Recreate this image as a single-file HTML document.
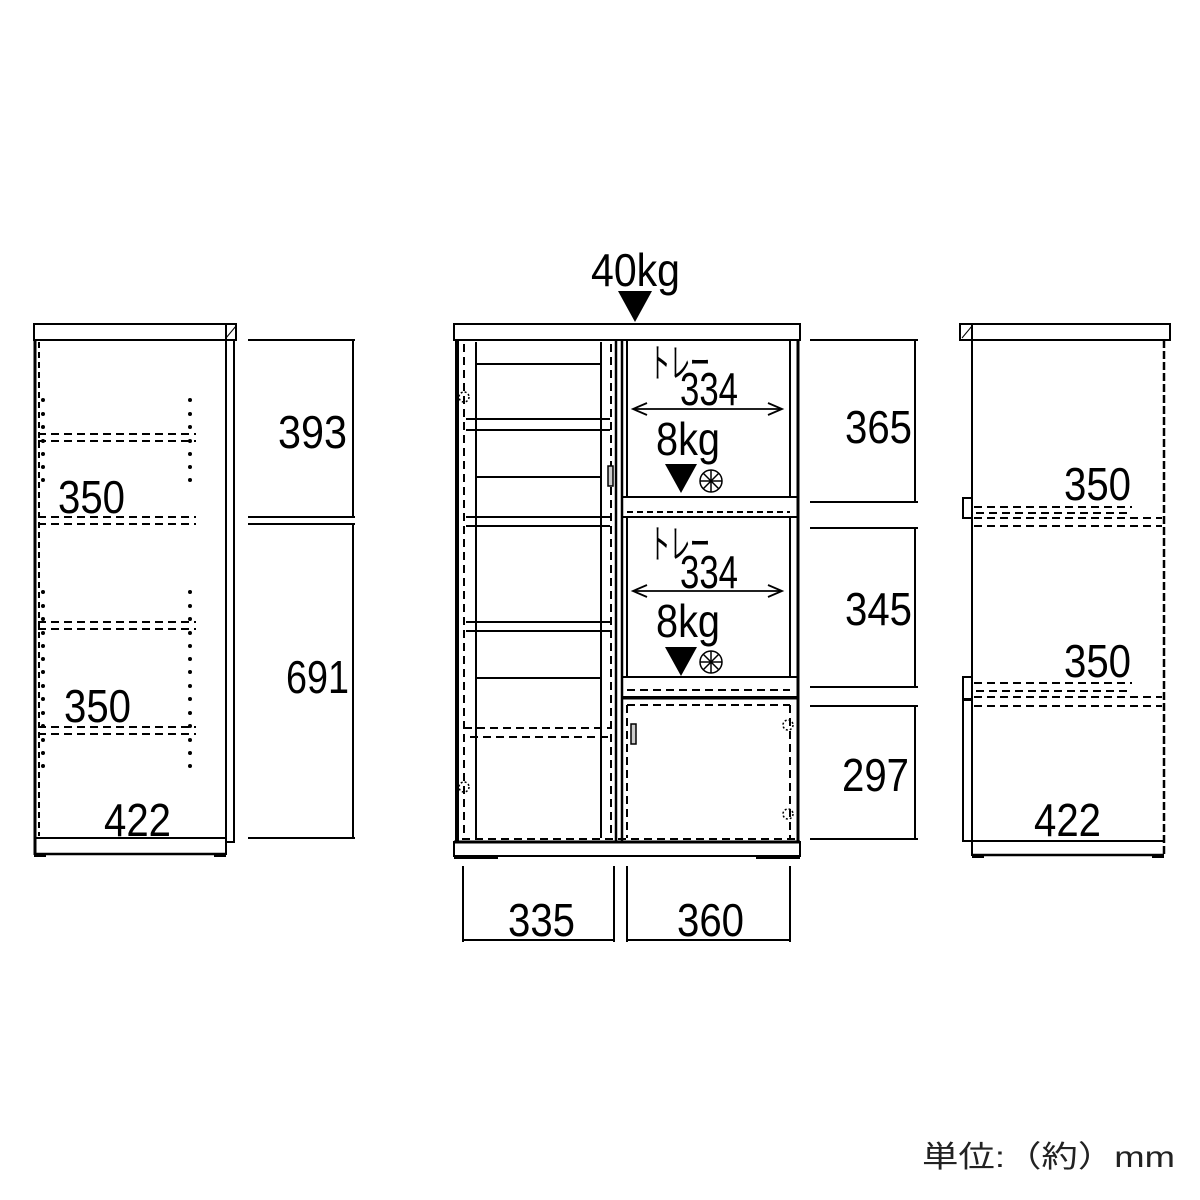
<!DOCTYPE html>
<html><head><meta charset="utf-8"><style>html,body{margin:0;padding:0;background:#fff}svg{display:block}</style></head>
<body>
<svg width="1200" height="1200" viewBox="0 0 1200 1200" xmlns="http://www.w3.org/2000/svg" font-family="'Liberation Sans Narrow','Liberation Sans','Noto Sans CJK JP',sans-serif" fill="none" stroke="#000" stroke-width="2">
<!-- LEFT VIEW -->
<rect x="34" y="324" width="202" height="16"/>
<line x1="226" y1="324" x2="226" y2="340"/><line x1="226" y1="338" x2="236" y2="326" stroke-width="1"/>
<line x1="35" y1="340" x2="35" y2="855" stroke-width="3"/>
<line x1="226" y1="340" x2="226" y2="855"/>
<rect x="226" y="340" width="8" height="502"/>
<line x1="34" y1="838" x2="226" y2="838"/>
<line x1="34" y1="854" x2="226" y2="854" stroke-width="2.5"/>
<rect x="34" y="853" width="12" height="4" fill="#000" stroke="none"/><rect x="214" y="853" width="12" height="4" fill="#000" stroke="none"/>
<g stroke-dasharray="8,5">
<line x1="38" y1="434" x2="196" y2="434"/><line x1="38" y1="441" x2="196" y2="441"/>
<line x1="38" y1="517" x2="196" y2="517"/><line x1="38" y1="524" x2="196" y2="524"/>
<line x1="38" y1="622" x2="196" y2="622"/><line x1="38" y1="629" x2="196" y2="629"/>
<line x1="38" y1="727" x2="196" y2="727"/><line x1="38" y1="734" x2="196" y2="734"/>
<line x1="39" y1="342" x2="39" y2="836" stroke-dasharray="6,4"/>
</g>
<g fill="#000" stroke="none">
<circle cx="43" cy="400" r="2"/><circle cx="43" cy="414" r="2"/><circle cx="43" cy="427" r="2"/><circle cx="43" cy="441" r="2"/><circle cx="43" cy="454" r="2"/><circle cx="43" cy="467" r="2"/><circle cx="43" cy="480" r="2"/>
<circle cx="190" cy="400" r="2"/><circle cx="190" cy="414" r="2"/><circle cx="190" cy="427" r="2"/><circle cx="190" cy="441" r="2"/><circle cx="190" cy="454" r="2"/><circle cx="190" cy="467" r="2"/><circle cx="190" cy="480" r="2"/>
<circle cx="43" cy="592" r="2"/><circle cx="43" cy="606" r="2"/><circle cx="43" cy="619" r="2"/><circle cx="43" cy="633" r="2"/><circle cx="43" cy="646" r="2"/><circle cx="43" cy="659" r="2"/><circle cx="43" cy="672" r="2"/><circle cx="43" cy="686" r="2"/><circle cx="43" cy="699" r="2"/><circle cx="43" cy="713" r="2"/><circle cx="43" cy="726" r="2"/><circle cx="43" cy="740" r="2"/><circle cx="43" cy="753" r="2"/><circle cx="43" cy="766" r="2"/>
<circle cx="190" cy="592" r="2"/><circle cx="190" cy="606" r="2"/><circle cx="190" cy="619" r="2"/><circle cx="190" cy="633" r="2"/><circle cx="190" cy="646" r="2"/><circle cx="190" cy="659" r="2"/><circle cx="190" cy="672" r="2"/><circle cx="190" cy="686" r="2"/><circle cx="190" cy="699" r="2"/><circle cx="190" cy="713" r="2"/><circle cx="190" cy="726" r="2"/><circle cx="190" cy="740" r="2"/><circle cx="190" cy="753" r="2"/><circle cx="190" cy="766" r="2"/>
</g>
<!-- left dims -->
<line x1="248" y1="340" x2="355" y2="340"/><line x1="248" y1="517" x2="355" y2="517"/><line x1="248" y1="524" x2="355" y2="524"/><line x1="248" y1="838" x2="355" y2="838"/>
<line x1="353" y1="340" x2="353" y2="517"/><line x1="353" y1="524" x2="353" y2="838"/>

<!-- CENTER VIEW -->
<rect x="454" y="324" width="346" height="16"/>
<line x1="457" y1="340" x2="457" y2="842" stroke-width="4"/>
<line x1="798" y1="340" x2="798" y2="842" stroke-width="3"/>
<line x1="476" y1="342" x2="476" y2="838"/>
<line x1="601" y1="342" x2="601" y2="838"/>
<line x1="616" y1="340" x2="616" y2="842" stroke-width="2.5"/>
<line x1="622" y1="340" x2="622" y2="842" stroke-width="2.5"/>
<line x1="790" y1="340" x2="790" y2="497"/><line x1="790" y1="517" x2="790" y2="677"/>
<line x1="627" y1="340" x2="627" y2="497"/><line x1="627" y1="517" x2="627" y2="677"/>
<line x1="476" y1="364" x2="601" y2="364"/>
<line x1="466" y1="419" x2="610" y2="419"/><line x1="466" y1="430" x2="610" y2="430"/>
<line x1="466" y1="517" x2="610" y2="517"/><line x1="466" y1="526" x2="610" y2="526"/>
<line x1="476" y1="477" x2="601" y2="477"/>
<line x1="466" y1="622" x2="610" y2="622"/><line x1="466" y1="631" x2="610" y2="631"/>
<line x1="476" y1="678" x2="601" y2="678"/>
<rect x="622" y="497" width="176" height="20"/>
<rect x="622" y="677" width="176" height="20"/>
<line x1="622" y1="698" x2="798" y2="698" stroke-width="3"/>
<line x1="454" y1="842" x2="800" y2="842" stroke-width="3"/>
<rect x="454" y="842" width="346" height="14"/>
<rect x="454" y="855" width="44" height="4" fill="#000" stroke="none"/><rect x="756" y="855" width="44" height="4" fill="#000" stroke="none"/>
<g stroke-dasharray="8,5">
<line x1="464" y1="344" x2="464" y2="838"/>
<line x1="611" y1="344" x2="611" y2="838"/>
<line x1="464" y1="728" x2="612" y2="728"/><line x1="470" y1="737" x2="612" y2="737"/>
<line x1="462" y1="839" x2="796" y2="839"/>
<line x1="627" y1="512" x2="790" y2="512" stroke-dasharray="6,4"/>
<line x1="627" y1="690" x2="790" y2="690"/>
<line x1="627" y1="705" x2="790" y2="705"/>
<line x1="627" y1="705" x2="627" y2="838"/><line x1="790" y1="705" x2="790" y2="838"/>
</g>
<rect x="608" y="466" width="5" height="20" fill="#ccc" stroke-width="1.5"/>
<rect x="631" y="724" width="5" height="20" fill="#ccc" stroke-width="1.5"/>
<g stroke-width="1.5" stroke-dasharray="2,2"><circle cx="464" cy="397" r="5"/><circle cx="464" cy="787" r="5"/><circle cx="788" cy="725" r="5"/><circle cx="788" cy="814" r="5"/></g>
<!-- arrows -->
<line x1="633" y1="409" x2="782" y2="409" stroke-width="1.8"/>
<polyline points="647,403 633,409 647,415" stroke-width="1.8"/><polyline points="768,403 782,409 768,415" stroke-width="1.8"/>
<line x1="633" y1="591" x2="782" y2="591" stroke-width="1.8"/>
<polyline points="647,585 633,591 647,597" stroke-width="1.8"/><polyline points="768,585 782,591 768,597" stroke-width="1.8"/>
<g fill="#000" stroke="none">
<polygon points="618,291 652,291 635,322"/>
<polygon points="665,464 697,464 681,493"/>
<polygon points="665,647 697,647 681,676"/>
</g>
<g stroke-width="1.5">
<circle cx="711" cy="481" r="11"/><line x1="700" y1="481" x2="722" y2="481"/><line x1="711" y1="470" x2="711" y2="492"/><line x1="703" y1="473" x2="719" y2="489"/><line x1="719" y1="473" x2="703" y2="489"/>
<circle cx="711" cy="662" r="11"/><line x1="700" y1="662" x2="722" y2="662"/><line x1="711" y1="651" x2="711" y2="673"/><line x1="703" y1="654" x2="719" y2="670"/><line x1="719" y1="654" x2="703" y2="670"/>
</g>
<!-- center right dims -->
<line x1="810" y1="340" x2="918" y2="340"/><line x1="810" y1="502" x2="918" y2="502"/><line x1="810" y1="528" x2="918" y2="528"/><line x1="810" y1="687" x2="918" y2="687"/><line x1="810" y1="706" x2="918" y2="706"/><line x1="810" y1="839" x2="918" y2="839"/>
<line x1="915" y1="340" x2="915" y2="502"/><line x1="915" y1="528" x2="915" y2="687"/><line x1="915" y1="706" x2="915" y2="839"/>
<!-- bottom dims -->
<line x1="463" y1="866" x2="463" y2="942"/><line x1="614" y1="866" x2="614" y2="942"/><line x1="463" y1="940" x2="614" y2="940"/>
<line x1="627" y1="866" x2="627" y2="942"/><line x1="790" y1="866" x2="790" y2="942"/><line x1="627" y1="940" x2="790" y2="940"/>

<!-- RIGHT VIEW -->
<rect x="960" y="324" width="210" height="16"/>
<line x1="972" y1="324" x2="972" y2="340"/><line x1="962" y1="338" x2="972" y2="326" stroke-width="1"/>
<line x1="972" y1="340" x2="972" y2="856"/>
<line x1="1164" y1="340" x2="1164" y2="856" stroke-width="2.5" stroke-dasharray="8,3"/>
<rect x="963" y="498" width="9" height="20"/>
<rect x="963" y="677" width="9" height="22"/>
<rect x="963" y="700" width="9" height="141"/>
<line x1="963" y1="841" x2="1164" y2="841"/>
<line x1="972" y1="855" x2="1164" y2="855" stroke-width="2.5"/>
<rect x="972" y="854" width="12" height="4" fill="#000" stroke="none"/><rect x="1152" y="854" width="12" height="4" fill="#000" stroke="none"/>
<g stroke-dasharray="8,5">
<line x1="974" y1="507" x2="1132" y2="507"/><line x1="976" y1="513" x2="1132" y2="513"/>
<line x1="974" y1="518" x2="1162" y2="518"/><line x1="974" y1="526" x2="1162" y2="526"/>
<line x1="974" y1="683" x2="1132" y2="683"/><line x1="976" y1="691" x2="1132" y2="691"/>
<line x1="974" y1="697" x2="1162" y2="697"/><line x1="974" y1="706" x2="1162" y2="706"/>
</g>

<!-- TEXT -->
<g fill="#000" stroke="none" font-size="46">
<text x="278" y="448" textLength="69" lengthAdjust="spacingAndGlyphs">393</text>
<text x="286" y="693" textLength="63" lengthAdjust="spacingAndGlyphs">691</text>
<text x="58" y="513" textLength="67" lengthAdjust="spacingAndGlyphs">350</text>
<text x="64" y="722" textLength="67" lengthAdjust="spacingAndGlyphs">350</text>
<text x="104" y="836" textLength="67" lengthAdjust="spacingAndGlyphs">422</text>
<text x="591" y="286" textLength="89" lengthAdjust="spacingAndGlyphs">40kg</text>
<text x="845" y="443" textLength="67" lengthAdjust="spacingAndGlyphs">365</text>
<text x="845" y="625" textLength="67" lengthAdjust="spacingAndGlyphs">345</text>
<text x="842" y="791" textLength="67" lengthAdjust="spacingAndGlyphs">297</text>
<text x="508" y="936" textLength="67" lengthAdjust="spacingAndGlyphs">335</text>
<text x="677" y="936" textLength="67" lengthAdjust="spacingAndGlyphs">360</text>
<text x="1064" y="500" textLength="67" lengthAdjust="spacingAndGlyphs">350</text>
<text x="1064" y="677" textLength="67" lengthAdjust="spacingAndGlyphs">350</text>
<text x="1034" y="836" textLength="67" lengthAdjust="spacingAndGlyphs">422</text>
<text x="680" y="405" textLength="58" lengthAdjust="spacingAndGlyphs">334</text>
<text x="680" y="588" textLength="58" lengthAdjust="spacingAndGlyphs">334</text>
<text x="656" y="455" textLength="64" lengthAdjust="spacingAndGlyphs">8kg</text>
<text x="656" y="637" textLength="64" lengthAdjust="spacingAndGlyphs">8kg</text>
<text x="650" y="377" font-size="40" textLength="60" lengthAdjust="spacingAndGlyphs" font-family="'Noto Sans CJK JP',sans-serif">トレー</text>
<text x="650" y="558" font-size="40" textLength="60" lengthAdjust="spacingAndGlyphs" font-family="'Noto Sans CJK JP',sans-serif">トレー</text>
<text x="922" y="1167" font-size="30" textLength="253" lengthAdjust="spacingAndGlyphs" font-family="'Liberation Sans','Noto Sans CJK JP',sans-serif" fill="#222">単位:（約）mm</text>
</g>
</svg>
</body></html>
